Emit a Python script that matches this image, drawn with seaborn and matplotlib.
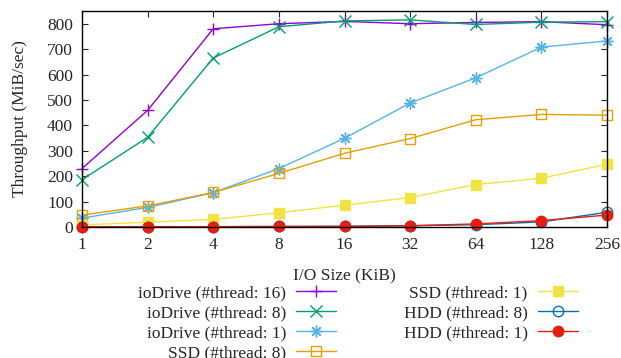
import pandas as pd
import seaborn as sns
import matplotlib.pyplot as plt

io_size = [1, 2, 4, 8, 16, 32, 64, 128, 256]

# throughput values (MiB/sec)
iodrive_16 = [230, 459, 780, 800, 809, 800, 805, 808, 796]
iodrive_8 = [186, 353, 665, 788, 811, 815, 797, 806, 808]
iodrive_1 = [35, 77, 135, 230, 349, 488, 587, 708, 732]
ssd_8 = [47, 83, 136, 211, 290, 348, 422, 443, 440]
ssd_1 = [8, 19, 30, 56, 86, 116, 167, 192, 247]
hdd_8 = [0.5, 1, 1.5, 2, 3, 5, 9, 20, 58]
hdd_1 = [1, 1, 1, 2, 2, 5, 12, 25, 47]

labels = ['ioDrive (#thread: 16)', 'ioDrive (#thread: 8)', 'ioDrive (#thread: 1)',
          'SSD (#thread: 8)', 'SSD (#thread: 1)', 'HDD (#thread: 8)', 'HDD (#thread: 1)']
series = [iodrive_16, iodrive_8, iodrive_1, ssd_8, ssd_1, hdd_8, hdd_1]
colors = ['#9400d3', '#009e73', '#56b4e9', '#e69f00', '#f0e442', '#0072b2', '#e51e10']
# marker, filled?
markers = [('+', True), ('x', True), ((8, 2, 0), True), ('s', False),
           ('s', True), ('o', False), ('o', True)]

df = pd.concat([pd.DataFrame({'size': io_size, 'tp': s, 'name': n})
                for s, n in zip(series, labels)], ignore_index=True)

sns.set_style('ticks')
plt.rcParams['font.family'] = ['Liberation Serif', 'DejaVu Serif']
fs = 12.5

fig = plt.figure(figsize=(6.21, 3.58), dpi=100)
ax = fig.add_axes([82 / 621, 1 - 227 / 358, 525 / 621, 216 / 358])

for name, col, (m, filled) in zip(labels, colors, markers):
    sub = df[df['name'] == name]
    sns.lineplot(x='size', y='tp', data=sub, ax=ax, color=col, lw=1.0,
                 marker=m, markersize=7.5 if m in ('o', 's') else 8.5,
                 markerfacecolor=col if filled else 'none',
                 markeredgecolor=col, markeredgewidth=1.0,
                 label=name, clip_on=False, legend=False)

ax.set_xscale('log', base=2)
ax.set_xlim(1, 256)
ax.set_xticks(io_size)
ax.set_xticklabels([str(v) for v in io_size])
ax.minorticks_off()
ax.set_ylim(0, 850)
ax.set_yticks(range(0, 801, 100))

for sp in ax.spines.values():
    sp.set_visible(True)
    sp.set_color('black')
    sp.set_linewidth(1.0)
ax.tick_params(direction='in', length=4, width=0.8, top=True, right=True,
               labelsize=fs)
ax.tick_params(axis='x', pad=7)
ax.tick_params(axis='y', pad=6.5)

ax.set_xlabel('I/O Size (KiB)', fontsize=fs)
ax.xaxis.set_label_coords(0.5, (227 - 268) / 216)
ax.set_ylabel('Throughput (MiB/sec)', fontsize=fs)
ax.yaxis.set_label_coords((28 - 82) / 525, 0.5)

handles, labs = ax.get_legend_handles_labels()
fig.legend(handles, labs, ncol=2, loc='upper left', bbox_to_anchor=(138 / 621, 1 - 285 / 358),
           frameon=False, markerfirst=False, fontsize=fs, handlelength=2.3,
           labelspacing=0.22, columnspacing=3.9, handletextpad=0.58,
           borderpad=0, borderaxespad=0)

fig.savefig('out.png', dpi=100)
